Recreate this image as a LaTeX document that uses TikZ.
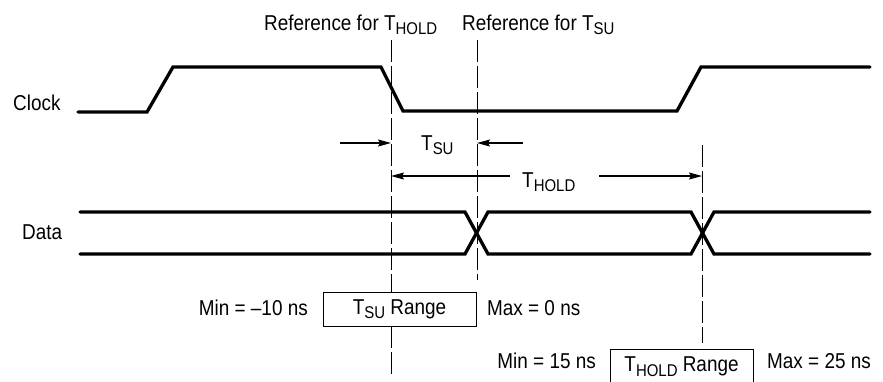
\documentclass[tikz,border=0pt]{standalone}
\usepackage{fontspec}
\setmainfont{Liberation Sans}[FakeStretch=0.88]
\usetikzlibrary{arrows.meta}
\newcommand\lsub[1]{\raisebox{-4.5pt}{\fontsize{17}{18}\selectfont #1}}
\begin{document}
\begin{tikzpicture}[x=1pt,y=-1pt,
  sig/.style={line width=3.3pt, line cap=round, line join=miter},
  refline/.style={line width=0.9pt, dash pattern=on 22pt off 4pt},
  dimarrow/.style={line width=1.2pt, -{Stealth[length=13pt,width=7pt,inset=2pt]}},
  lbl/.style={font=\fontsize{21.5}{24}\selectfont, inner sep=0pt},
  rangebox/.style={draw, line width=0.9pt, fill=white, inner sep=0pt, font=\fontsize{21.5}{24}\selectfont}]
\clip (0,0) rectangle (883,381);
\fill[white] (0,0) rectangle (883,381);
% reference lines
\coordinate (r1top) at (391,40);
\coordinate (r1bot) at (391,376);
\coordinate (r2top) at (477,40);
\coordinate (r2bot) at (477,280);
\coordinate (r3top) at (702,145);
\coordinate (r3bot) at (702,343);
\draw[refline] (r1top) -- (r1bot);
\draw[refline] (r2top) -- (r2bot);
\draw[refline] (r3top) -- (r3bot);
% labels
\node[lbl, anchor=base west] (refhold) at (264,30) {Reference for T\lsub{HOLD}};
\node[lbl, anchor=base west] (refsu) at (462,30) {Reference for T\lsub{SU}};
\node[lbl, anchor=base west] (clocklbl) at (13,110) {Clock};
\node[lbl, anchor=base west] (datalbl) at (22,239) {Data};
% clock
\draw[sig] (78,112) -- (147,112) -- (173,67) -- (381,67) -- (403,111) -- (677,111) -- (701,67) -- (870,67);
% data
\draw[sig] (80,212) -- (465,212) -- (488,254) -- (691,254) -- (714,212) -- (870,212);
\draw[sig] (80,254) -- (465,254) -- (488,212) -- (691,212) -- (714,254) -- (870,254);
% TSU arrows
\node[lbl, anchor=base west] (tsulbl) at (421,150) {T\lsub{SU}};
\coordinate (tsuL) at (340,143);
\coordinate (tsuR) at (523,143);
\draw[dimarrow] (tsuL) -- (r1top |- tsuL);
\draw[dimarrow] (tsuR) -- (r2top |- tsuR);
% THOLD arrow
\node[lbl, anchor=base west] (tholdlbl) at (522,187) {T\lsub{HOLD}};
\coordinate (hl) at (510,176);
\coordinate (hr) at (599,176);
\draw[dimarrow] (hl) -- (r1top |- hl);
\draw[dimarrow] (hr) -- (r3top |- hr);
% range boxes
\node[rangebox, minimum width=153pt, minimum height=34pt] (tsubox) at (399.5,309) {T\lsub{SU} Range};
\node[lbl, anchor=base east] (tsumin) at (308,315) {Min = –10 ns};
\node[lbl, anchor=base west] (tsumax) at (487,315) {Max = 0 ns};
\node[rangebox, minimum width=143pt, minimum height=35pt] (tholdbox) at (681.5,366.5) {T\lsub{HOLD} Range};
\node[lbl, anchor=base east] (tholdmin) at (596,368) {Min = 15 ns};
\node[lbl, anchor=base west] (tholdmax) at (767,368) {Max = 25 ns};
\end{tikzpicture}
\end{document}
